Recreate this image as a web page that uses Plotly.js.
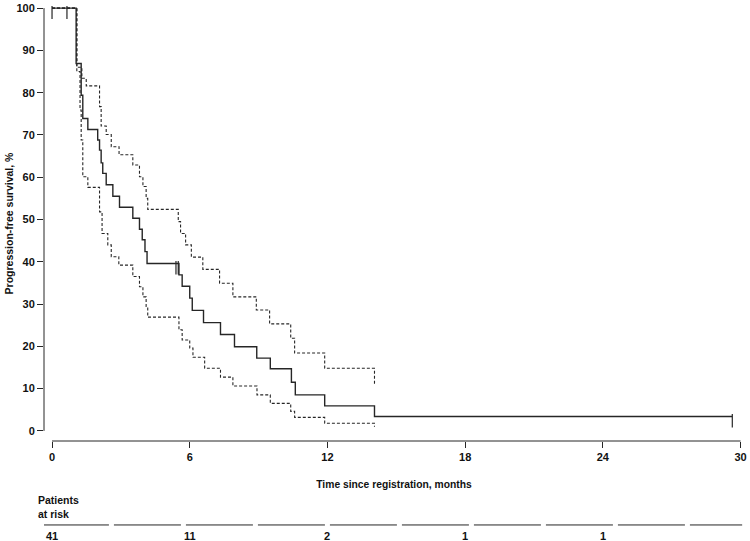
<!DOCTYPE html>
<html>
<head>
<meta charset="utf-8">
<script src="https://cdn.plot.ly/plotly-3.0.1.min.js"></script>
<style>html,body{margin:0;padding:0;background:#fff;}#chart{width:750px;height:541px;}</style>
</head>
<body>
<div id="chart"></div>
<script>
// ---- Data ----
var pfsTimes = [0, 1.05, 1.27, 1.34, 1.56, 1.99, 2.07, 2.14, 2.21, 2.36, 2.65, 2.94, 3.52, 3.81, 3.93, 4.05, 4.14, 5.53, 5.67, 6.0, 6.11, 6.6, 7.34, 7.95, 8.92, 9.51, 10.43, 10.6, 11.88, 14.05];
var pfsSurv  = [100, 86.9, 79.4, 73.9, 71.3, 68.8, 66.4, 63.4, 60.9, 58.2, 55.5, 52.9, 50.3, 47.7, 45.2, 42.4, 39.6, 36.9, 34.2, 31.4, 28.5, 25.6, 22.8, 19.9, 17.2, 14.7, 11.5, 8.5, 5.9, 3.4];

var upperTimes = [0, 1.08, 1.3, 1.49, 2.07, 2.14, 2.36, 2.58, 2.92, 3.52, 3.81, 3.96, 4.1, 4.17, 5.5, 5.6, 5.82, 6.07, 6.57, 7.3, 7.88, 8.9, 9.48, 10.4, 10.57, 11.88, 14.05];
var upperSurv  = [100, 86.0, 83.4, 81.6, 76.7, 72.1, 70.1, 67.2, 65.3, 62.9, 60.1, 57.8, 55.0, 52.4, 49.5, 46.7, 44.0, 41.1, 38.2, 34.9, 31.7, 28.6, 25.3, 21.9, 18.4, 14.8, 10.9];

var lowerTimes = [0, 1.08, 1.22, 1.27, 1.34, 1.56, 2.07, 2.18, 2.43, 2.58, 2.91, 3.52, 3.81, 3.96, 4.1, 4.17, 5.53, 5.67, 6.0, 6.14, 6.65, 7.34, 7.88, 8.93, 9.51, 10.4, 10.57, 11.88, 14.05];
var lowerSurv  = [100, 85.0, 75.9, 68.8, 60.1, 57.6, 51.8, 46.7, 44.0, 41.2, 39.2, 36.5, 34.1, 31.7, 29.4, 26.9, 23.9, 21.5, 19.6, 17.4, 14.8, 12.7, 10.6, 8.5, 6.5, 4.6, 3.2, 1.8, 1.0];

var censorTimes = [0, 0.65, 5.4, 5.5, 29.64];

var xTicks = [0, 6, 12, 18, 24, 30];
var yTicks = [0, 10, 20, 30, 40, 50, 60, 70, 80, 90, 100];

var atRiskTimes = [0, 6, 12, 18, 24];
var atRiskN = [41, 11, 2, 1, 1];

// ---- Helpers ----
function stepAt(times, surv, t) {
  var v = surv[0];
  for (var i = 0; i < times.length; i++) { if (times[i] <= t) v = surv[i]; }
  return v;
}
var lastCensor = censorTimes[censorTimes.length - 1];
var mainX = pfsTimes.concat([lastCensor]);
var mainY = pfsSurv.concat([pfsSurv[pfsSurv.length - 1]]);
var censorY = censorTimes.map(function (t) { return stepAt(pfsTimes, pfsSurv, t); });

var ink = '#262626';
var fontFam = '"Liberation Sans", Arial, Helvetica, sans-serif';

var traces = [
  { x: upperTimes, y: upperSurv, type: 'scatter', mode: 'lines', line: { shape: 'hv', color: ink, width: 1.1, dash: '3px,2px' }, hoverinfo: 'skip' },
  { x: lowerTimes, y: lowerSurv, type: 'scatter', mode: 'lines', line: { shape: 'hv', color: ink, width: 1.1, dash: '3px,2px' }, hoverinfo: 'skip' },
  { x: mainX, y: mainY, type: 'scatter', mode: 'lines', line: { shape: 'hv', color: ink, width: 1.4 }, hoverinfo: 'skip' },
  { x: censorTimes, y: censorY, type: 'scatter', mode: 'markers', marker: { size: 1, color: 'rgba(0,0,0,0)' },
    error_y: { type: 'constant', symmetric: false, value: 0.6, valueminus: 2.6, width: 0, thickness: 1.2, color: ink }, hoverinfo: 'skip', cliponaxis: false }
];

var annotations = [
  { text: 'Patients<br>at risk', xref: 'paper', yref: 'paper', x: -0.0114, y: -0.152, xanchor: 'left', yanchor: 'middle', align: 'left', showarrow: false,
    font: { family: fontFam, size: 10.5, color: '#111', weight: 700 } }
];
atRiskTimes.forEach(function (t, i) {
  annotations.push({ text: String(atRiskN[i]), xref: 'x', yref: 'paper', x: t, y: -0.218, xanchor: 'center', yanchor: 'middle', showarrow: false,
    font: { family: fontFam, size: 11, color: '#111', weight: 700 } });
});

var layout = {
  width: 750, height: 541,
  margin: { l: 44, r: 6, t: 6, b: 100 },
  paper_bgcolor: '#fff', plot_bgcolor: '#fff',
  showlegend: false,
  xaxis: {
    range: [-0.35, 30.15], tickvals: xTicks, ticktext: xTicks.map(String),
    ticks: 'outside', ticklen: 6, tickwidth: 1, tickcolor: ink,
    showline: false, showgrid: false, zeroline: false, automargin: false,
    tickfont: { family: fontFam, size: 11, color: '#111', weight: 700 },
    title: { text: 'Time since registration, months', font: { family: fontFam, size: 10.3, color: '#111', weight: 700 }, standoff: 18 }
  },
  yaxis: {
    range: [-2.4, 100.5], tickvals: yTicks, ticktext: yTicks.map(String),
    ticks: 'outside', ticklen: 6, tickwidth: 1, tickcolor: ink,
    showline: false, showgrid: false, zeroline: false, automargin: false,
    tickfont: { family: fontFam, size: 11, color: '#111', weight: 700 },
    title: { text: 'Progression-free survival, %', font: { family: fontFam, size: 10.5, color: '#111', weight: 700 } }
  },
  shapes: [
    { type: 'line', xref: 'paper', yref: 'y', x0: 0, x1: 0, y0: yTicks[0], y1: yTicks[yTicks.length - 1], line: { color: ink, width: 1 } },
    { type: 'line', xref: 'x', yref: 'paper', x0: xTicks[0], x1: xTicks[xTicks.length - 1], y0: 0, y1: 0, line: { color: ink, width: 1 } },
    { type: 'line', xref: 'x', yref: 'paper', x0: -0.44, x1: 30.07, y0: -0.193, y1: -0.193, line: { color: ink, width: 1, dash: '67px,5px' } }
  ],
  annotations: annotations
};

Plotly.newPlot('chart', traces, layout, { staticPlot: true, displayModeBar: false });
</script>
</body>
</html>
